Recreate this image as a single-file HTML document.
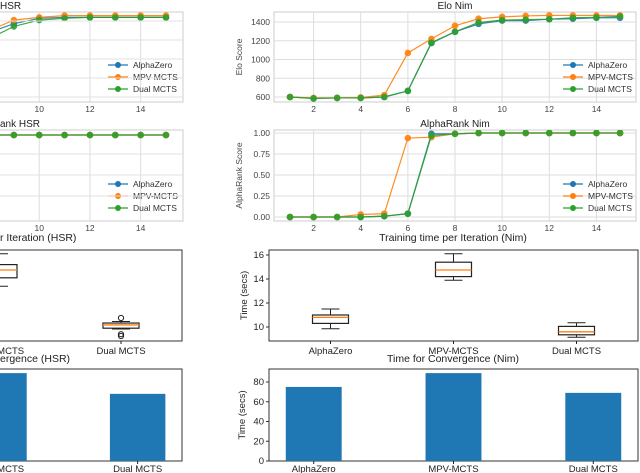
<!DOCTYPE html>
<html><head><meta charset="utf-8"><style>
body{margin:0;background:#fff;width:640px;height:473px;overflow:hidden}
svg{display:block;font-family:"Liberation Sans","DejaVu Sans",sans-serif}
</style></head><body>
<svg id="c" width="640" height="473" xmlns="http://www.w3.org/2000/svg"></svg>
<script>
const NS="http://www.w3.org/2000/svg";
const svg=document.getElementById('c');
const COL={az:'#1f77b4',mpv:'#ff7f0e',dual:'#2ca02c'};
const seriesNames=['AlphaZero','MPV-MCTS','Dual MCTS'];
// HSR Elo (y-axis hidden, arbitrary 0-100 scale)
const hsrIters=[7,8,9,10,11,12,13,14,15];
const hsrEloAZ=[55,77,87,93,94,94,94,94,94];
const hsrEloMPV=[60,79,91,94,96,96,96,96,96];
const hsrEloDual=[48,70,84,91,93,94,94,94,94];
const hsrRankAZ=[1,1,1,1,1,1,1,1,1];
const hsrRankMPV=[1,1,1,1,1,1,1,1,1];
const hsrRankDual=[1,1,1,1,1,1,1,1,1];
// Nim
const nimIters=[1,2,3,4,5,6,7,8,9,10,11,12,13,14,15];
const nimEloAZ=[600,585,590,590,600,665,1175,1295,1380,1415,1415,1430,1435,1445,1445];
const nimEloMPV=[600,590,590,595,620,1070,1220,1360,1435,1455,1465,1470,1470,1470,1470];
const nimEloDual=[600,585,590,590,600,665,1180,1295,1395,1420,1425,1430,1445,1450,1460];
const nimRankAZ=[0,0,0,0,0.01,0.04,0.99,0.99,1,1,1,1,1,1,1];
const nimRankMPV=[0,0,0,0.03,0.04,0.94,0.95,0.99,1,1,1,1,1,1,1];
const nimRankDual=[0,0,0,0,0.01,0.04,0.97,0.99,1,1,1,1,1,1,1];
const eloTicks=[600,800,1000,1200,1400];
const rankTicks=[0,0.25,0.5,0.75,1.0];
const rankTickLabels=['0.00','0.25','0.50','0.75','1.00'];
const xTicks=[2,4,6,8,10,12,14];
// box stats [whiskLo, q1, med, q3, whiskHi]
const boxCats=['AlphaZero','MPV-MCTS','Dual MCTS'];
const boxNim=[[9.85,10.3,10.8,11.0,11.5],[13.9,14.2,14.75,15.4,16.1],[9.15,9.35,9.6,10.05,10.35]];
const boxHSR=[[9.8,10.2,10.6,10.9,11.4],[13.4,14.1,14.75,15.2,16.1],[9.83,9.9,10.17,10.33,10.46]];
const hsrOutliers=[10.75,9.4,9.25];
const timeTicks=[10,12,14,16];
const convNim=[75,89,69];
const convHSR=[74,89,68];
const convTicks=[0,20,40,60,80];

function el(tag,attrs,parent,name,inter){const e=document.createElementNS(NS,tag);for(const k in attrs)e.setAttribute(k,attrs[k]);


(parent||svg).appendChild(e);return e;}
function txt(x,y,s,o,name,parent){const t=el('text',Object.assign({x:x,y:y,'font-size':9,fill:'#333'},o||{}),parent,name,false);t.textContent=s;return t;}
function lin(d0,d1,r0,r1){return v=>r0+(v-d0)*(r1-r0)/(d1-d0);}

function linePanel(o){
  const g=el('g',{},svg,o.name,false);
  const clipId=o.name+'-clip';
  const cp=el('clipPath',{id:clipId},g,'clip',false);
  el('rect',{x:o.L,y:o.T,width:o.R-o.L,height:o.B-o.T},cp,'clip-rect',false);
  el('rect',{x:o.L,y:o.T,width:o.R-o.L,height:o.B-o.T,fill:'#fff',stroke:'#ccc','stroke-width':1},g,'plot-area',false);
  const X=lin(1,15,o.x1,o.x15), Y=lin(o.y0,o.y1,o.py0,o.py1);
  xTicks.forEach(t=>{const x=X(t);el('line',{x1:x,x2:x,y1:o.T,y2:o.B,stroke:'#ddd'},g,'x-grid',false);
    txt(x,o.B+10,String(t),{'text-anchor':'middle','font-size':8.5,fill:'#444'},'x-tick-label',g);});
  o.yt.forEach((t,i)=>{const y=Y(t);el('line',{x1:o.L,x2:o.R,y1:y,y2:y,stroke:'#ddd'},g,'y-grid',false);
    if(o.showY)txt(o.L-4,y+3,o.ytl?o.ytl[i]:String(t),{'text-anchor':'end','font-size':8.5,fill:'#444'},'y-tick-label',g);});
  if(o.ylabel)txt(0,0,o.ylabel,{'text-anchor':'middle','font-size':8.5,fill:'#444',transform:`translate(${o.L-32},${(o.T+o.B)/2}) rotate(-90)`},'y-axis-title',g);
  txt(o.tx,o.T-3,o.title,{'text-anchor':o.ta||'middle','font-size':10,fill:'#222'},'chart-title',g);
  const sg=el('g',{'clip-path':`url(#${clipId})`},g,'series-group',false);
  [['az',o.az],['mpv',o.mpv],['dual',o.dual]].forEach(([k,arr])=>{
    const pts=arr.map((v,i)=>[X(o.xs[i]),Y(v)]);
    el('polyline',{points:pts.map(p=>p.join(',')).join(' '),fill:'none',stroke:COL[k],'stroke-width':1.2,opacity:0.9},sg,'series-line-'+k,false);
    pts.forEach(p=>el('circle',{cx:p[0],cy:p[1],r:3.3,fill:COL[k],opacity:0.9},sg,'point-'+k,false));
  });
  // legend
  const lg=el('g',{},g,'legend',false);
  ['az','mpv','dual'].forEach((k,i)=>{const y=o.ly+i*12;
    el('line',{x1:o.lx,x2:o.lx+20,y1:y,y2:y,stroke:COL[k],'stroke-width':1.2},lg,'legend-line',false);
    el('circle',{cx:o.lx+10,cy:y,r:3,fill:COL[k]},lg,'legend-marker',false);
    txt(o.lx+25,y+3,seriesNames[i],{'font-size':8.5,fill:'#333'},'legend-entry',lg);});
}
linePanel({name:'elo-hsr',L:-20,R:183,T:12,B:102,x1:-189,x15:166,y0:0,y1:100,py0:102,py1:12,yt:[],xs:hsrIters,
  az:hsrEloAZ,mpv:hsrEloMPV,dual:hsrEloDual,title:'HSR',tx:0,ta:'start',lx:108,ly:65});
// draw y grid for hsr elo at same px as nim
linePanel({name:'elo-nim',L:274,R:636,T:12,B:102,x1:290,x15:620,y0:600,y1:1400,py0:97,py1:22,yt:eloTicks,showY:true,
  xs:nimIters,az:nimEloAZ,mpv:nimEloMPV,dual:nimEloDual,title:'Elo Nim',tx:455,ylabel:'Elo Score',lx:563,ly:65});
linePanel({name:'rank-hsr',L:-20,R:183,T:130,B:221,x1:-189,x15:166,y0:0,y1:1,py0:217,py1:135,yt:[],xs:hsrIters,
  az:hsrRankAZ,mpv:hsrRankMPV,dual:hsrRankDual,title:'ank HSR',tx:0,ta:'start',lx:108,ly:184});
linePanel({name:'rank-nim',L:274,R:636,T:130,B:221,x1:290,x15:620,y0:0,y1:1,py0:217,py1:133,yt:rankTicks,ytl:rankTickLabels,showY:true,
  xs:nimIters,az:nimRankAZ,mpv:nimRankMPV,dual:nimRankDual,title:'AlphaRank Nim',tx:455,ylabel:'AlphaRank Score',lx:563,ly:184});
// horizontal grids for HSR panels
[21,40,59,78,97].forEach(y=>el('line',{x1:0,x2:183,y1:y,y2:y,stroke:'#e2e2e2'},svg,'y-grid',false));
[154,175,196].forEach(y=>el('line',{x1:0,x2:183,y1:y,y2:y,stroke:'#e2e2e2'},svg,'y-grid',false));

function boxPanel(o){
  const g=el('g',{},svg,o.name,false);
  el('rect',{x:o.L,y:o.T,width:o.R-o.L,height:o.B-o.T,fill:'#fff',stroke:'#333','stroke-width':1},g,'plot-area',false);
  const X=lin(0.5,3.5,o.L,o.R), Y=lin(10,16,327,255);
  if(o.showY){timeTicks.forEach(t=>{const y=Y(t);el('line',{x1:o.L-3,x2:o.L,y1:y,y2:y,stroke:'#333'},g,'y-tick',false);
    txt(o.L-5,y+3,String(t),{'text-anchor':'end','font-size':9.5,fill:'#222'},'y-tick-label',g);});
    txt(0,0,'Time (secs)',{'text-anchor':'middle','font-size':9.5,fill:'#222',transform:`translate(${o.L-22},${(o.T+o.B)/2}) rotate(-90)`},'y-axis-title',g);}
  o.data.forEach((s,i)=>{const cx=X(i+1),w=36;
    el('line',{x1:cx,x2:cx,y1:Y(s[0]),y2:Y(s[1]),stroke:'#222'},g,'whisker-low',false);
    el('line',{x1:cx,x2:cx,y1:Y(s[3]),y2:Y(s[4]),stroke:'#222'},g,'whisker-high',false);
    el('line',{x1:cx-9,x2:cx+9,y1:Y(s[0]),y2:Y(s[0])},g,'cap-low',false).setAttribute('stroke','#222');
    el('line',{x1:cx-9,x2:cx+9,y1:Y(s[4]),y2:Y(s[4])},g,'cap-high',false).setAttribute('stroke','#222');
    el('rect',{x:cx-w/2,y:Y(s[3]),width:w,height:Y(s[1])-Y(s[3]),fill:'none',stroke:'#222','stroke-width':1.2},g,'box-'+boxCats[i],false);
    el('line',{x1:cx-w/2,x2:cx+w/2,y1:Y(s[2]),y2:Y(s[2]),stroke:'#ff7f0e','stroke-width':1.3},g,'median',false);
    el('line',{x1:cx,x2:cx,y1:o.B,y2:o.B+3,stroke:'#222'},g,'x-tick',false);
    txt(cx,o.B+13,boxCats[i],{'text-anchor':'middle','font-size':9.5,fill:'#222'},'x-tick-label',g);});
  (o.out||[]).forEach(v=>el('circle',{cx:X(3),cy:Y(v),r:2.6,fill:'none',stroke:'#222'},g,'outlier',false));
  txt(o.tx,241,o.title,{'text-anchor':o.ta||'middle','font-size':10.5,fill:'#222'},'chart-title',g);
}
boxPanel({name:'box-hsr',L:-184,R:182,T:250,B:341,data:boxHSR,out:hsrOutliers,title:'r Iteration (HSR)',tx:0,ta:'start'});
boxPanel({name:'box-nim',L:269,R:638,T:250,B:341,data:boxNim,showY:true,title:'Training time per Iteration (Nim)',tx:453});

function barPanel(o){
  const g=el('g',{},svg,o.name,false);
  el('rect',{x:o.L,y:o.T,width:o.R-o.L,height:o.B-o.T,fill:'#fff',stroke:'#333','stroke-width':1},g,'plot-area',false);
  const X=lin(-0.32,2.32,o.L,o.R), Y=lin(0,80,461,382);
  if(o.showY){convTicks.forEach(t=>{const y=Y(t);el('line',{x1:o.L-3,x2:o.L,y1:y,y2:y,stroke:'#333'},g,'y-tick',false);
    txt(o.L-5,y+3,String(t),{'text-anchor':'end','font-size':9.5,fill:'#222'},'y-tick-label',g);});
    txt(0,0,'Time (secs)',{'text-anchor':'middle','font-size':9.5,fill:'#222',transform:`translate(${o.L-24},${(o.T+o.B)/2}) rotate(-90)`},'y-axis-title',g);}
  o.data.forEach((v,i)=>{const cx=X(i),w=X(0.4)-X(0);
    el('rect',{x:cx-w/2,y:Y(v),width:w,height:Y(0)-Y(v),fill:'#1f77b4'},g,'bar-'+boxCats[i],false);
    el('line',{x1:cx,x2:cx,y1:o.B,y2:o.B+3,stroke:'#222'},g,'x-tick',false);
    txt(cx,o.B+11,boxCats[i],{'text-anchor':'middle','font-size':9.5,fill:'#222'},'x-tick-label',g);});
  txt(o.tx,362,o.title,{'text-anchor':o.ta||'middle','font-size':10.5,fill:'#222'},'chart-title',g);
}
barPanel({name:'conv-hsr',L:-184,R:182,T:369,B:461,data:convHSR,title:'ergence (HSR)',tx:0,ta:'start'});
barPanel({name:'conv-nim',L:269,R:638,T:369,B:461,data:convNim,showY:true,title:'Time for Convergence (Nim)',tx:453});
</script>
</body></html>
